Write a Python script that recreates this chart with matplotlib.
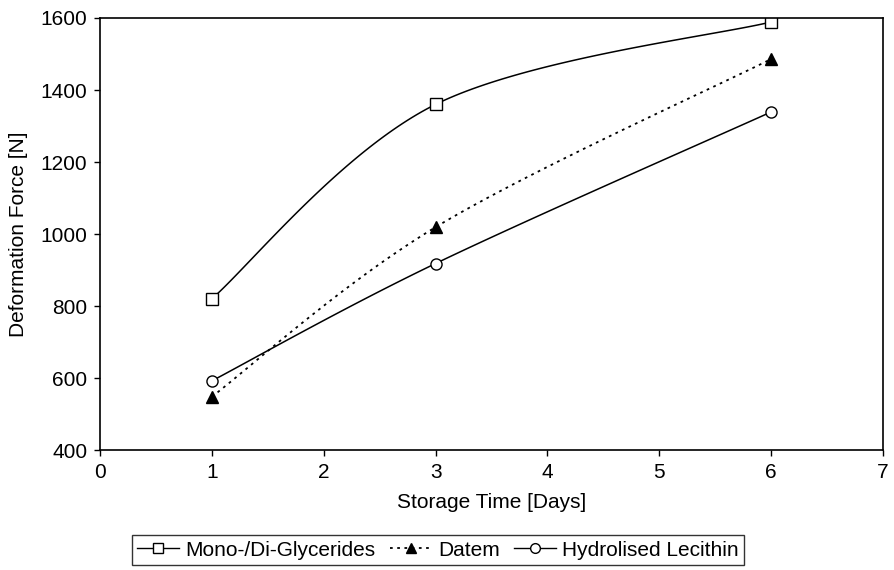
import numpy as np
import matplotlib.pyplot as plt

plt.rcParams['font.family'] = ['Liberation Sans', 'DejaVu Sans']

days = [1, 3, 6]
mono = [820, 1360, 1589]
datem = [548, 1019, 1486]
lecithin = [592, 918, 1339]


def smooth(ax, xs, ys, n=60):
    # excel-style smoothed line: bezier through points, done in axes-fraction space
    x0, x1 = ax.get_xlim()
    y0, y1 = ax.get_ylim()
    ux = (np.array(xs, float) - x0) / (x1 - x0) * 7.83
    uy = (np.array(ys, float) - y0) / (y1 - y0) * 4.32
    P = np.column_stack([ux, uy])
    P = np.vstack([P[0], P, P[-1]])
    out = []
    t = np.linspace(0, 1, n)[:, None]
    for i in range(1, len(P) - 2):
        a, b = P[i], P[i + 1]
        c1 = a + (P[i + 1] - P[i - 1]) / 6
        c2 = b - (P[i + 2] - P[i]) / 6
        seg = (1 - t) ** 3 * a + 3 * (1 - t) ** 2 * t * c1 + 3 * (1 - t) * t ** 2 * c2 + t ** 3 * b
        out.append(seg)
    out = np.vstack(out)
    return out[:, 0] / 7.83 * (x1 - x0) + x0, out[:, 1] / 4.32 * (y1 - y0) + y0


fs = 15
fig = plt.figure(figsize=(8.95, 5.70), dpi=100)
ax = fig.add_axes([100 / 895, 120 / 570, 783 / 895, 432 / 570])
ax.set_xlim(0, 7)
ax.set_ylim(400, 1600)
ax.set_xticks(range(0, 8))
ax.set_yticks(range(400, 1601, 200))
ax.tick_params(direction='out', length=4, width=1, labelsize=fs, colors='black', pad=5)
for s in ax.spines.values():
    s.set_linewidth(1.2)
    s.set_color('black')

sx, sy = smooth(ax, days, mono)
ax.plot(sx, sy, color='black', lw=1.1)
ax.plot(days, mono, ls='none', marker='s', ms=8, mfc='white', mec='black', mew=1)

sx, sy = smooth(ax, days, datem)
ax.plot(sx, sy, color='black', lw=1.3, ls=(0, (1.5, 2.5)))
ax.plot(days, datem, ls='none', marker='^', ms=8, mfc='black', mec='black')

sx, sy = smooth(ax, days, lecithin)
ax.plot(sx, sy, color='black', lw=1.1)
ax.plot(days, lecithin, ls='none', marker='o', ms=8, mfc='white', mec='black', mew=1)

ax.set_xlabel('Storage Time [Days]', fontsize=fs, labelpad=8)
ax.set_ylabel('Deformation Force [N]', fontsize=fs, labelpad=9)

h1, = ax.plot([], [], color='black', lw=1, marker='s', ms=7, mfc='white', mec='black')
h2, = ax.plot([], [], color='black', lw=1.3, ls=(0, (1.5, 2.5)), marker='^', ms=7, mfc='black')
h3, = ax.plot([], [], color='black', lw=1, marker='o', ms=7, mfc='white', mec='black')
leg = fig.legend([h1, h2, h3], ['Mono-/Di-Glycerides', 'Datem', 'Hydrolised Lecithin'],
                 loc='center', bbox_to_anchor=(438 / 895, 1 - 550 / 570), ncol=3,
                 fontsize=fs, frameon=True, fancybox=False, edgecolor='black',
                 handlelength=2.0, handletextpad=0.3, columnspacing=0.7,
                 borderpad=0.25, borderaxespad=0)
leg.get_frame().set_linewidth(1)

fig.savefig('out.png', dpi=100)
